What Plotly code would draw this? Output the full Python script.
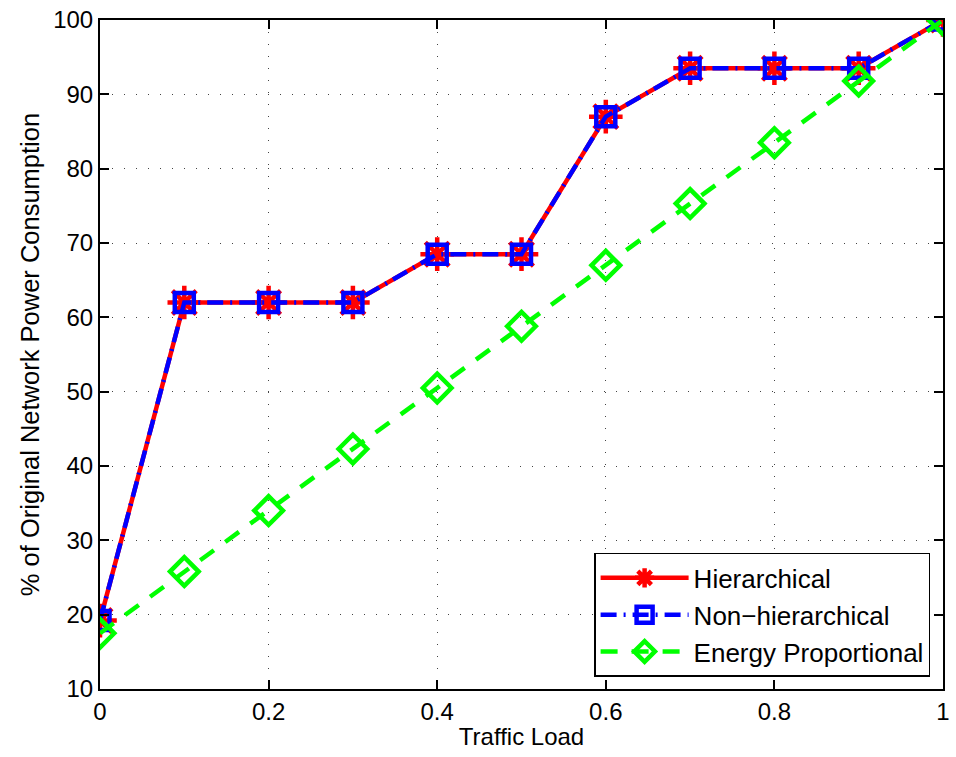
import plotly.graph_objects as go

traffic_load = [0, 0.1, 0.2, 0.3, 0.4, 0.5, 0.6, 0.7, 0.8, 0.9, 1.0]
hierarchical = [19.2, 62, 62, 62, 68.5, 68.5, 87, 93.5, 93.5, 93.5, 100]
non_hierarchical = [19.2, 62, 62, 62, 68.5, 68.5, 87, 93.5, 93.5, 93.5, 100]
energy_proportional = [17.5, 25.8, 34.0, 42.3, 50.5, 58.8, 67.0, 75.3, 83.5, 91.8, 100]

x_ticks = [0, 0.2, 0.4, 0.6, 0.8, 1]
x_tick_labels = ["0", "0.2", "0.4", "0.6", "0.8", "1"]
y_ticks = [10, 20, 30, 40, 50, 60, 70, 80, 90, 100]

FONT = "Liberation Sans, Arial, Helvetica"

fig = go.Figure()
fig.add_trace(go.Scatter(
    x=traffic_load, y=hierarchical, name="Hierarchical", mode="lines+markers",
    line=dict(color="#ff0000", width=4.5),
    marker=dict(symbol="asterisk-open", size=28, color="#ff0000",
                line=dict(color="#ff0000", width=4.5)),
))
fig.add_trace(go.Scatter(
    x=traffic_load, y=non_hierarchical, name="Non\u2212hierarchical", mode="lines+markers",
    line=dict(color="#0000ff", width=4.5, dash="16px,7px,2px,7px"),
    marker=dict(symbol="square-open", size=19, color="#0000ff",
                line=dict(color="#0000ff", width=4.5)),
))
fig.add_trace(go.Scatter(
    x=traffic_load, y=energy_proportional, name="Energy Proportional", mode="lines+markers",
    line=dict(color="#00ff00", width=4.5, dash="17px,14px"),
    marker=dict(symbol="diamond-open", size=22, color="#00ff00",
                line=dict(color="#00ff00", width=4.5)),
))

axis_common = dict(
    showline=True, linecolor="black", linewidth=2, mirror="ticks",
    ticks="inside", ticklen=9, tickcolor="black", tickwidth=1.5,
    showgrid=True, gridcolor="#444444", gridwidth=1.2, griddash="1px,11px",
    zeroline=False,
    tickfont=dict(family=FONT, size=24, color="black"),
)

fig.update_layout(
    width=956, height=757,
    margin=dict(l=100, r=6, t=19, b=68),
    paper_bgcolor="white", plot_bgcolor="white",
    font=dict(family=FONT, color="black"),
    xaxis=dict(range=[0, 1], tickvals=x_ticks, ticktext=x_tick_labels,
               title=dict(text="Traffic Load", font=dict(size=24), standoff=4),
               **axis_common),
    yaxis=dict(range=[10, 100], tickvals=y_ticks,
               title=dict(text="% of Original Network Power Consumption", font=dict(size=25.5), standoff=6),
               **axis_common),
    legend=dict(
        x=0.9847, y=0.018, xanchor="right", yanchor="bottom",
        bgcolor="white", bordercolor="black", borderwidth=1.5,
        font=dict(size=26), itemwidth=88, tracegroupgap=0,
    ),
    showlegend=True,
)

fig.write_html("out.html")
